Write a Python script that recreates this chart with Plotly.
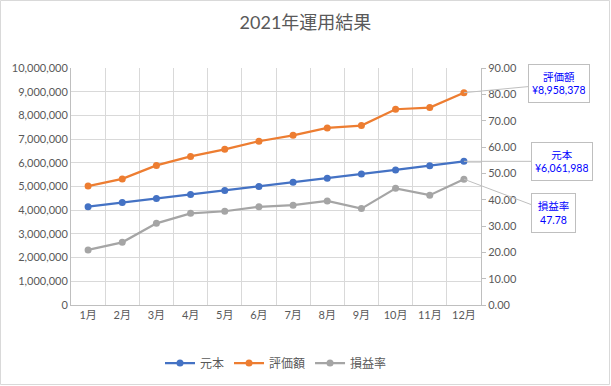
import plotly.graph_objects as go

months = ["1月", "2月", "3月", "4月", "5月", "6月", "7月", "8月", "9月", "10月", "11月", "12月"]
principal = [4150000, 4320000, 4490000, 4660000, 4830000, 5000000, 5180000, 5350000, 5530000, 5700000, 5880000, 6061988]
valuation = [5020000, 5320000, 5890000, 6270000, 6570000, 6910000, 7160000, 7470000, 7570000, 8260000, 8330000, 8958378]
pl_rate = [20.9, 23.8, 31.0, 34.8, 35.6, 37.3, 37.9, 39.5, 36.6, 44.3, 41.7, 47.78]

FONT = "Lato, 'Noto Sans CJK JP', sans-serif"
TXT = "#595959"
GRID = "#d9d9d9"

fig = go.Figure()
fig.add_trace(go.Scatter(x=months, y=principal, name="元本", mode="lines+markers",
                         line=dict(color="#4472C4", width=2.25), marker=dict(size=7, color="#4472C4")))
fig.add_trace(go.Scatter(x=months, y=valuation, name="評価額", mode="lines+markers",
                         line=dict(color="#ED7D31", width=2.25), marker=dict(size=7, color="#ED7D31")))
fig.add_trace(go.Scatter(x=months, y=pl_rate, name="損益率", mode="lines+markers", yaxis="y2",
                         line=dict(color="#A5A5A5", width=2.25), marker=dict(size=7, color="#A5A5A5")))

fig.update_layout(
    width=611, height=386,
    margin=dict(l=71, r=130, t=68, b=81, autoexpand=False),
    paper_bgcolor="white", plot_bgcolor="white",
    font=dict(family=FONT, color=TXT, size=11),
    title=dict(text="2021年運用結果", x=0.5, xanchor="center", y=0.94, yanchor="middle",
               font=dict(size=18, color=TXT, family=FONT)),
    xaxis=dict(type="category", tickson="boundaries", showgrid=True, gridcolor=GRID,
               showline=True, linecolor="#bfbfbf", ticks="", tickfont=dict(size=11, color=TXT),
               range=[-0.5, 11.5]),
    yaxis=dict(range=[0, 10000000], dtick=1000000, tickformat=",d", showgrid=True, gridcolor=GRID,
               showline=True, linecolor="#bfbfbf", ticks="", ticklen=0, zeroline=False,
               tickfont=dict(size=11, color=TXT)),
    yaxis2=dict(overlaying="y", side="right", range=[0, 90], dtick=10, tickformat=".2f",
                showgrid=False, showline=True, linecolor="#bfbfbf", ticks="outside", ticklen=4,
                tickcolor="#bfbfbf", zeroline=False, tickfont=dict(size=11, color=TXT)),
    legend=dict(orientation="h", x=0.5, xanchor="center", y=-0.245, yanchor="middle",
                font=dict(size=12, color=TXT), itemwidth=30),
    showlegend=True,
)

ann_style = dict(showarrow=True, arrowhead=0, arrowwidth=1, arrowcolor="#bfbfbf",
                 bordercolor="#bfbfbf", borderwidth=1, borderpad=3, bgcolor="white",
                 font=dict(color="#0000FF", size=10.5, family=FONT), xref="x", align="center")

fig.add_annotation(x=months[-1], y=valuation[-1], yref="y",
                   text="評価額<br>¥{:,}".format(valuation[-1]), ax=95, ay=-9,
                   height=31, **ann_style)
fig.add_annotation(x=months[-1], y=principal[-1], yref="y",
                   text="元本<br>¥{:,}".format(principal[-1]), ax=98, ay=0,
                   height=31, **ann_style)
fig.add_annotation(x=months[-1], y=pl_rate[-1], yref="y2",
                   text="損益率<br>{:.2f}".format(pl_rate[-1]), ax=90, ay=34,
                   width=37, height=32, **ann_style)

# outer chart border
fig.add_shape(type="rect", xref="paper", yref="paper",
              x0=-70.5/410, x1=538.5/410, y0=-79.5/237, y1=304.5/237,
              line=dict(color="#d9d9d9", width=1), fillcolor="rgba(0,0,0,0)", layer="below")

fig.write_html("out.html", config={"displayModeBar": False},
               post_script="document.body.style.margin='0';document.body.style.padding='0';")
